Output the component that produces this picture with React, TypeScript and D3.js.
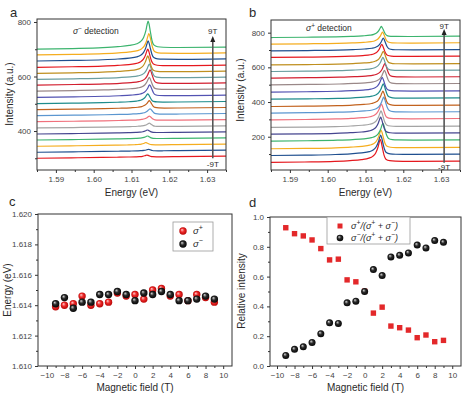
import React, { useEffect, useRef } from "react";
import * as d3 from "d3";

// magnetic field steps, bottom trace (-9T) to top trace (9T)
const FIELDS = [-9, -8, -7, -6, -5, -4, -3, -2, -1, 0, 1, 2, 3, 4, 5, 6, 7, 8, 9];

const TRACE_COLORS = [
  "#e5181e", "#1f4f8f", "#f5ad1f", "#3cb46e", "#45458f", "#a4a4a4", "#f0707c",
  "#5b96d0", "#c2621e", "#1e8c8c", "#5252b2", "#9a8888", "#d21f2f", "#6a9ea0",
  "#bf8f1f", "#e5181e", "#1f4f8f", "#f5ad1f", "#3cb46e",
];

// panel c: peak energies (eV)
const E_SIGMA_PLUS = [
  1.6139, 1.614, 1.6141, 1.6146, 1.614, 1.6141, 1.6142, 1.6148, 1.6146, 1.6147,
  1.6144, 1.615, 1.6151, 1.6146, 1.6147, 1.6143, 1.6147, 1.6145, 1.6142,
];
const E_SIGMA_MINUS = [
  1.6141, 1.6145, 1.6138, 1.6142, 1.6142, 1.6147, 1.6147, 1.6149, 1.6147, 1.6143,
  1.6148, 1.6147, 1.6149, 1.6147, 1.6143, 1.6143, 1.6144, 1.6146, 1.6144,
];

// panel d: relative intensities
const REL_PLUS = [
  0.928, 0.888, 0.873, 0.846, 0.788, 0.712, 0.717, 0.578, 0.565, 0.502,
  0.355, 0.395, 0.268, 0.257, 0.241, 0.19, 0.208, 0.163, 0.172,
];
const REL_MINUS = [
  0.071, 0.112, 0.129, 0.158, 0.217, 0.29, 0.286, 0.424, 0.435, 0.5,
  0.647, 0.607, 0.732, 0.743, 0.759, 0.812, 0.792, 0.842, 0.83,
];

// panel a (sigma- detection): baseline offsets and peak heights
const A_BASE = [300, 322, 344, 367, 389, 411, 434, 456, 478, 500, 523, 546, 568, 589, 611, 633, 656, 678, 699];
const A_AMP = [7, 6, 9, 10, 10, 13, 16, 21, 29, 32, 42, 46, 52, 52, 60, 63, 70, 75, 100];
// panel b (sigma+ detection)
const B_BASE = [50, 90, 129, 173, 213, 252, 296, 335, 373, 415, 456, 498, 537, 575, 613, 656, 694, 733, 771];
const B_AMP = [130, 115, 105, 100, 95, 92, 88, 88, 85, 85, 82, 80, 80, 78, 75, 72, 70, 65, 60];

// peak line shape (offset from peak in eV, fraction of height)
const PROFILE_DX = [-0.05, -0.02, -0.012, -0.008, -0.005, -0.003, -0.002, -0.0012, -0.0006, -0.0003, 0, 0.0003, 0.0006, 0.001, 0.0015, 0.0025, 0.004, 0.008, 0.05];
const PROFILE_Y = [0, 0.02, 0.04, 0.07, 0.11, 0.17, 0.25, 0.4, 0.65, 0.85, 1, 0.85, 0.6, 0.3, 0.12, 0.05, 0.03, 0.015, 0];

const ENERGY_TICKS = [1.59, 1.6, 1.61, 1.62, 1.63];
const ENERGY_MINOR = [1.585, 1.595, 1.605, 1.615, 1.625, 1.635];
const FIELD_TICKS = [-10, -8, -6, -4, -2, 0, 2, 4, 6, 8, 10];
const FIELD_MINOR = [-9, -7, -5, -3, -1, 1, 3, 5, 7, 9];

const FONT = "'Liberation Sans', Arial, Helvetica, sans-serif";
const INK = "#333";
const TXT = "#2a2a2a";

type Frame = { x0: number; x1: number; y0: number; y1: number };
type Part = [string, "sup"?];

function richText(g: any, x: number, y: number, parts: Part[], size: number, italic = false) {
  const t = g.append("text").attr("x", x).attr("y", y).attr("font-size", size)
    .attr("font-family", FONT).attr("fill", TXT);
  let shift = 0;
  parts.forEach(([s, kind]) => {
    const target = kind === "sup" ? -size * 0.4 : 0;
    const ts = t.append("tspan").attr("dy", target - shift).text(s);
    if (kind === "sup") ts.attr("font-size", size * 0.75);
    if (italic || s === "σ") ts.attr("font-style", "italic");
    shift = target;
  });
  return t;
}

function drawFrame(svg: any, f: Frame, x: any, y: any, xt: number[], xm: number[], yt: number[], ym: number[],
  xfmt: (v: number) => string, yfmt: (v: number) => string) {
  const g = svg.append("g");
  const bottom = g.append("g").attr("transform", `translate(0,${f.y1})`)
    .call(d3.axisBottom(x).tickValues(xt).tickSize(3).tickPadding(3).tickFormat(xfmt as any));
  g.append("g").attr("transform", `translate(0,${f.y1})`)
    .call(d3.axisBottom(x).tickValues(xm).tickSize(2).tickFormat(() => ""));
  const left = g.append("g").attr("transform", `translate(${f.x0},0)`)
    .call(d3.axisLeft(y).tickValues(yt).tickSize(3).tickPadding(3).tickFormat(yfmt as any));
  g.append("g").attr("transform", `translate(${f.x0},0)`)
    .call(d3.axisLeft(y).tickValues(ym).tickSize(2).tickFormat(() => ""));
  g.selectAll(".domain").remove();
  g.selectAll(".tick line").attr("stroke", INK);
  [bottom, left].forEach((a: any) =>
    a.selectAll("text").attr("font-size", 8).attr("font-family", FONT).attr("fill", "#444"));
  g.append("rect").attr("x", f.x0).attr("y", f.y0).attr("width", f.x1 - f.x0)
    .attr("height", f.y1 - f.y0).attr("fill", "none").attr("stroke", INK).attr("stroke-width", 1);
}

function axisTitles(svg: any, f: Frame, xt: string, yt: string, yx: number, ycy: number, xty: number) {
  svg.append("text").attr("x", (f.x0 + f.x1) / 2).attr("y", xty).attr("text-anchor", "middle")
    .attr("font-size", 10).attr("font-family", FONT).attr("fill", TXT).text(xt);
  svg.append("text").attr("transform", `translate(${yx},${ycy}) rotate(-90)`).attr("text-anchor", "middle")
    .attr("font-size", 10).attr("font-family", FONT).attr("fill", TXT).text(yt);
}

function spectraPanel(svg: any, f: Frame, yDomain: [number, number], base: number[], amp: number[],
  centers: number[], tilt: number, yt: number[], ym: number[], id: string) {
  const x = d3.scaleLinear().domain([1.585, 1.635]).range([f.x0, f.x1]);
  const y = d3.scaleLinear().domain(yDomain).range([f.y1, f.y0]);
  const profile = d3.scaleLinear().domain(PROFILE_DX).range(PROFILE_Y).clamp(true);
  const [e0, e1] = x.domain();
  svg.append("clipPath").attr("id", id).append("rect")
    .attr("x", f.x0).attr("y", f.y0).attr("width", f.x1 - f.x0).attr("height", f.y1 - f.y0);
  const line = d3.line<[number, number]>().x((d) => x(d[0])).y((d) => y(d[1])).curve(d3.curveMonotoneX);
  const g = svg.append("g").attr("clip-path", `url(#${id})`);
  FIELDS.forEach((_, i) => {
    const c = centers[i];
    const es = [e0, ...PROFILE_DX.map((dx) => c + dx).filter((e) => e > e0 && e < e1), e1];
    const pts = es.map((e) => [e, base[i] + (tilt * (e - e0)) / (e1 - e0) + amp[i] * profile(e - c)] as [number, number]);
    g.append("path").attr("d", line(pts)).attr("fill", "none")
      .attr("stroke", TRACE_COLORS[i]).attr("stroke-width", 1.2);
  });
  drawFrame(svg, f, x, y, ENERGY_TICKS, ENERGY_MINOR, yt, ym, d3.format(".2f"), d3.format("d"));
  return { x, y };
}

function arrow(svg: any, x: number, yb: number, yt: number) {
  svg.append("line").attr("x1", x).attr("x2", x).attr("y1", yb).attr("y2", yt + 4)
    .attr("stroke", "#555").attr("stroke-width", 1.6);
  svg.append("path").attr("d", `M${x - 2.5},${yt + 5} L${x},${yt - 1} L${x + 2.5},${yt + 5} Z`).attr("fill", "#222");
}

function sphereDefs(svg: any) {
  const defs = svg.append("defs");
  const mk = (id: string, hi: string, mid: string, lo: string) => {
    const gr = defs.append("radialGradient").attr("id", id).attr("cx", "50%").attr("cy", "50%")
      .attr("r", "55%").attr("fx", "35%").attr("fy", "32%");
    gr.append("stop").attr("offset", "0%").attr("stop-color", hi);
    gr.append("stop").attr("offset", "45%").attr("stop-color", mid);
    gr.append("stop").attr("offset", "100%").attr("stop-color", lo);
  };
  mk("ballRed", "#ffd0d0", "#ee2a2a", "#b00000");
  mk("ballBlack", "#d8d8d8", "#2a2a2a", "#000");
}

function App() {
  const ref = useRef<SVGSVGElement>(null);

  useEffect(() => {
    const svg = d3.select(ref.current);
    svg.selectAll("*").remove();
    sphereDefs(svg);

    // panel letters
    [["a", 10, 17], ["b", 249, 17], ["c", 9, 206], ["d", 249, 207]].forEach(([t, px, py]) =>
      svg.append("text").attr("x", px).attr("y", py).attr("font-size", 13).attr("font-family", FONT)
        .attr("fill", TXT).text(t as string));

    // a
    const fa: Frame = { x0: 37, x1: 226, y0: 19, y1: 170 };
    const a = spectraPanel(svg, fa, [257, 811], A_BASE, A_AMP, E_SIGMA_MINUS, 8, [400, 600, 800], [300, 500, 700], "clipA");
    axisTitles(svg, fa, "Energy (eV)", "Intensity (a.u.)", 13, 94, 196);
    richText(svg, 73, 34, [["σ"], ["−", "sup"], [" detection"]], 8.5);
    arrow(svg, a.x(1.6315), a.y(300), a.y(745));
    svg.append("text").attr("x", a.x(1.6315)).attr("y", a.y(767) + 3).attr("text-anchor", "middle")
      .attr("font-size", 8).attr("font-family", FONT).attr("fill", TXT).text("9T");
    svg.append("text").attr("x", a.x(1.6315)).attr("y", a.y(279) + 3).attr("text-anchor", "middle")
      .attr("font-size", 8).attr("font-family", FONT).attr("fill", TXT).text("-9T");

    // b
    const fb: Frame = { x0: 271, x1: 460, y0: 20, y1: 170 };
    const b = spectraPanel(svg, fb, [8, 873], B_BASE, B_AMP, E_SIGMA_PLUS, 8, [200, 400, 600, 800], [100, 300, 500, 700], "clipB");
    axisTitles(svg, fb, "Energy (eV)", "Intensity (a.u.)", 244, 90, 196);
    richText(svg, 306, 31, [["σ"], ["+", "sup"], [" detection"]], 8.5);
    arrow(svg, b.x(1.6308), b.y(50), b.y(815));
    svg.append("text").attr("x", b.x(1.6308)).attr("y", b.y(839) + 3).attr("text-anchor", "middle")
      .attr("font-size", 8).attr("font-family", FONT).attr("fill", TXT).text("9T");
    svg.append("text").attr("x", b.x(1.6308)).attr("y", b.y(25) + 3).attr("text-anchor", "middle")
      .attr("font-size", 8).attr("font-family", FONT).attr("fill", TXT).text("-9T");

    // c
    const fc: Frame = { x0: 38, x1: 232, y0: 214, y1: 366 };
    const xc = d3.scaleLinear().domain([-11, 11]).range([fc.x0, fc.x1]);
    const yc = d3.scaleLinear().domain([1.61, 1.62]).range([fc.y1, fc.y0]);
    drawFrame(svg, fc, xc, yc, FIELD_TICKS, FIELD_MINOR,
      [1.61, 1.612, 1.614, 1.616, 1.618, 1.62], [1.611, 1.613, 1.615, 1.617, 1.619],
      d3.format("d"), d3.format(".3f"));
    axisTitles(svg, fc, "Magnetic field (T)", "Energy (eV)", 11, 290, 391);
    const gc = svg.append("g");
    FIELDS.forEach((h, i) => {
      gc.append("circle").attr("cx", xc(h)).attr("cy", yc(E_SIGMA_PLUS[i])).attr("r", 3.7).attr("fill", "url(#ballRed)");
    });
    FIELDS.forEach((h, i) => {
      gc.append("circle").attr("cx", xc(h)).attr("cy", yc(E_SIGMA_MINUS[i])).attr("r", 3.7).attr("fill", "url(#ballBlack)");
    });
    const lc = svg.append("g");
    lc.append("rect").attr("x", 173).attr("y", 222).attr("width", 40).attr("height", 29)
      .attr("fill", "#fff").attr("stroke", "#999").attr("stroke-width", 0.8);
    lc.append("circle").attr("cx", 183).attr("cy", 231).attr("r", 3.7).attr("fill", "url(#ballRed)");
    lc.append("circle").attr("cx", 183).attr("cy", 244).attr("r", 3.7).attr("fill", "url(#ballBlack)");
    richText(lc, 193, 234, [["σ"], ["+", "sup"]], 9.5);
    richText(lc, 193, 247, [["σ"], ["−", "sup"]], 9.5);

    // d
    const fd: Frame = { x0: 270, x1: 461, y0: 217, y1: 366 };
    const xd = d3.scaleLinear().domain([-10.8, 11]).range([fd.x0, fd.x1]);
    const yd = d3.scaleLinear().domain([0, 1]).range([fd.y1, fd.y0]);
    drawFrame(svg, fd, xd, yd, FIELD_TICKS, FIELD_MINOR,
      [0, 0.2, 0.4, 0.6, 0.8, 1], [0.1, 0.3, 0.5, 0.7, 0.9], d3.format("d"), d3.format(".1f"));
    axisTitles(svg, fd, "Magnetic field (T)", "Relative intensity", 245, 291, 391);
    const gd = svg.append("g");
    FIELDS.forEach((h, i) => {
      gd.append("rect").attr("x", xd(h) - 2.7).attr("y", yd(REL_PLUS[i]) - 2.7).attr("width", 5.4)
        .attr("height", 5.4).attr("fill", "#e3282a");
    });
    FIELDS.forEach((h, i) => {
      gd.append("circle").attr("cx", xd(h)).attr("cy", yd(REL_MINUS[i])).attr("r", 3.5).attr("fill", "url(#ballBlack)");
    });
    const ld = svg.append("g");
    ld.append("rect").attr("x", 327).attr("y", 217).attr("width", 83).attr("height", 27)
      .attr("fill", "#fff").attr("stroke", "#999").attr("stroke-width", 0.8);
    ld.append("rect").attr("x", 337.5).attr("y", 223.5).attr("width", 5).attr("height", 5).attr("fill", "#e3282a");
    ld.append("circle").attr("cx", 340).attr("cy", 238).attr("r", 3.3).attr("fill", "url(#ballBlack)");
    richText(ld, 351, 229, [["σ"], ["+", "sup"], ["/(σ"], ["+", "sup"], [" + σ"], ["−", "sup"], [")"]], 9, true);
    richText(ld, 351, 241, [["σ"], ["−", "sup"], ["/(σ"], ["+", "sup"], [" + σ"], ["−", "sup"], [")"]], 9, true);
  }, []);

  return (
    <svg ref={ref} width={473} height={394}
      style={{ position: "absolute", left: 0, top: 0, background: "#fff" }} />
  );
}

export default App;
